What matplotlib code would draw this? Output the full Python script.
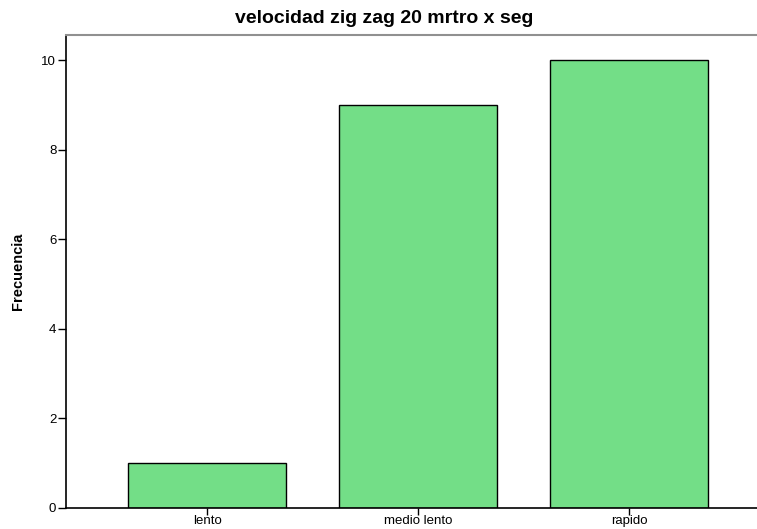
import matplotlib.pyplot as plt

plt.rcParams['font.family'] = ['Liberation Sans', 'DejaVu Sans']

# data
categorias = ['lento', 'medio lento', 'rapido']
frecuencia = [1, 9, 10]

fig = plt.figure(figsize=(7.57, 5.29), dpi=100)
ax = fig.add_axes([66/757, 21/529, 700/757, 473/529])

x = list(range(len(categorias)))
ax.bar(x, frecuencia, width=0.75, color='#73de87', edgecolor='black', linewidth=1.0, zorder=2)

ax.set_xlim(-0.67, 2.65)
ax.set_ylim(0, 10.56)
ax.set_xticks(x)
ax.set_xticklabels(categorias)
ax.set_yticks([0, 2, 4, 6, 8, 10])
ax.tick_params(axis='y', labelsize=9.5, length=6, width=1, pad=1)
ax.tick_params(axis='x', labelsize=9.5, length=5, width=1, pad=0)

ax.spines['right'].set_visible(False)
ax.spines['top'].set_color('#909090')
ax.spines['top'].set_linewidth(1.5)
ax.spines['left'].set_linewidth(1.2)
ax.spines['bottom'].set_linewidth(1.2)

ax.set_ylabel('Frecuencia', fontsize=10.5, fontweight='bold', labelpad=12)
fig.text(0.508, 0.965, 'velocidad zig zag 20 mrtro x seg', ha='center', va='center',
         fontsize=14, fontweight='bold')

fig.savefig('out.png', dpi=100)
